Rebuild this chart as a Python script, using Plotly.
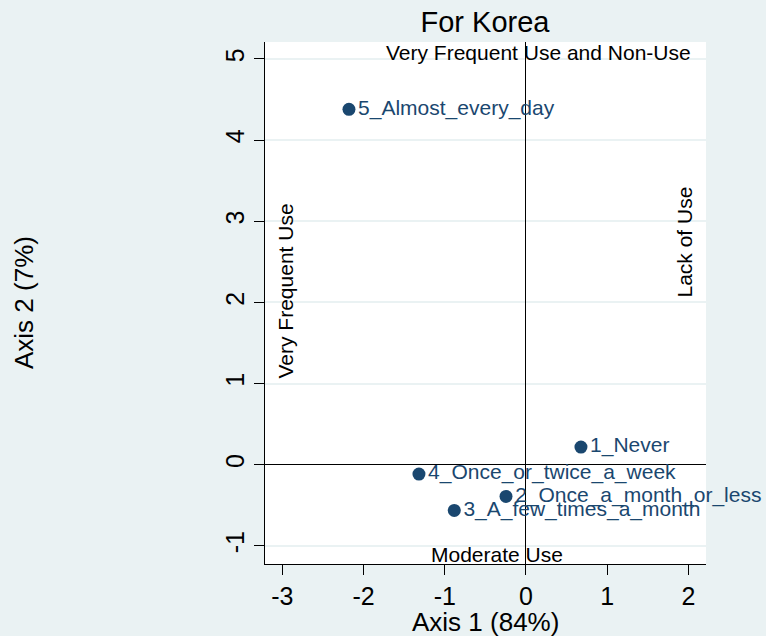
import plotly.graph_objects as go

labels = ["5_Almost_every_day", "1_Never", "4_Once_or_twice_a_week",
          "2_Once_a_month_or_less", "3_A_few_times_a_month"]
axis1 = [-2.18, 0.677, -1.318, -0.246, -0.883]
axis2 = [4.38, 0.218, -0.115, -0.390, -0.563]

xticks = [-3, -2, -1, 0, 1, 2]
xticklabels = ["-3", "-2", "-1", "0", "1", "2"]
yticks = [-1, 0, 1, 2, 3, 4, 5]
yticklabels = ["-1", "0", "1", "2", "3", "4", "5"]

navy = "#1a476f"
bg = "#eaf2f3"
FONT = "Liberation Sans, Arial, sans-serif"

L, R, T, B = 265, 60, 42, 72
W, H = 766, 636
PW, PH = W - L - R, H - T - B


def px(xp):
    return (xp - L) / PW


def py(yp):
    return (H - B - yp) / PH


fig = go.Figure()
fig.add_trace(go.Scatter(
    x=axis1, y=axis2, mode="markers+text", text=labels,
    textposition="middle right",
    marker=dict(color=navy, size=13),
    textfont=dict(color=navy, size=21, family=FONT),
    cliponaxis=False, showlegend=False, hoverinfo="skip"))

fig.update_layout(
    width=W, height=H,
    margin=dict(l=L, r=R, t=T, b=B, pad=0),
    paper_bgcolor=bg, plot_bgcolor="white",
    font=dict(family=FONT, color="black"),
    title=dict(text="For Korea", x=485 / W, xanchor="center",
               y=1 - 22 / H, yanchor="middle", yref="container",
               font=dict(size=29, color="black", family=FONT)),
    xaxis=dict(range=[-3.214, 2.217], tickvals=xticks, ticktext=xticklabels,
               ticks="outside", ticklen=10, tickcolor="black", tickwidth=1,
               showline=True, linecolor="black", linewidth=1, showgrid=False,
               zeroline=True, zerolinecolor="black", zerolinewidth=1,
               tickfont=dict(size=25, color="black"), ticklabelstandoff=0),
    yaxis=dict(range=[-1.223, 5.209], tickvals=yticks, ticktext=yticklabels,
               ticks="outside", ticklen=10, tickcolor="black", tickwidth=1,
               showline=True, linecolor="black", linewidth=1, showgrid=True,
               gridcolor=bg, gridwidth=2, zeroline=True, zerolinecolor="black",
               zerolinewidth=1, tickangle=-90,
               tickfont=dict(size=25, color="black"), ticklabelstandoff=0),
)

ann = [
    ("Very Frequent Use and Non-Use", 538.5, 52, 0),
    ("Moderate Use", 496.5, 554, 0),
    ("Very Frequent Use", 285, 291.5, -90),
    ("Lack of Use", 684, 242.5, -90),
]
for text, xp, yp, ang in ann:
    fig.add_annotation(text=text, x=px(xp), y=py(yp), xref="paper", yref="paper",
                       textangle=ang, showarrow=False,
                       xanchor="center", yanchor="middle",
                       font=dict(size=21, color="black", family=FONT))

fig.add_annotation(text="Axis 1 (84%)", x=px(485), y=py(622),
                   xref="paper", yref="paper", showarrow=False,
                   xanchor="center", yanchor="middle",
                   font=dict(size=26, color="black", family=FONT))
fig.add_annotation(text="Axis 2 (7%)", x=px(24), y=py(303),
                   xref="paper", yref="paper", showarrow=False, textangle=-90,
                   xanchor="center", yanchor="middle",
                   font=dict(size=26, color="black", family=FONT))

fig.write_html("out.html", config={"displayModeBar": False},
               post_script="document.body.style.margin='0';")
